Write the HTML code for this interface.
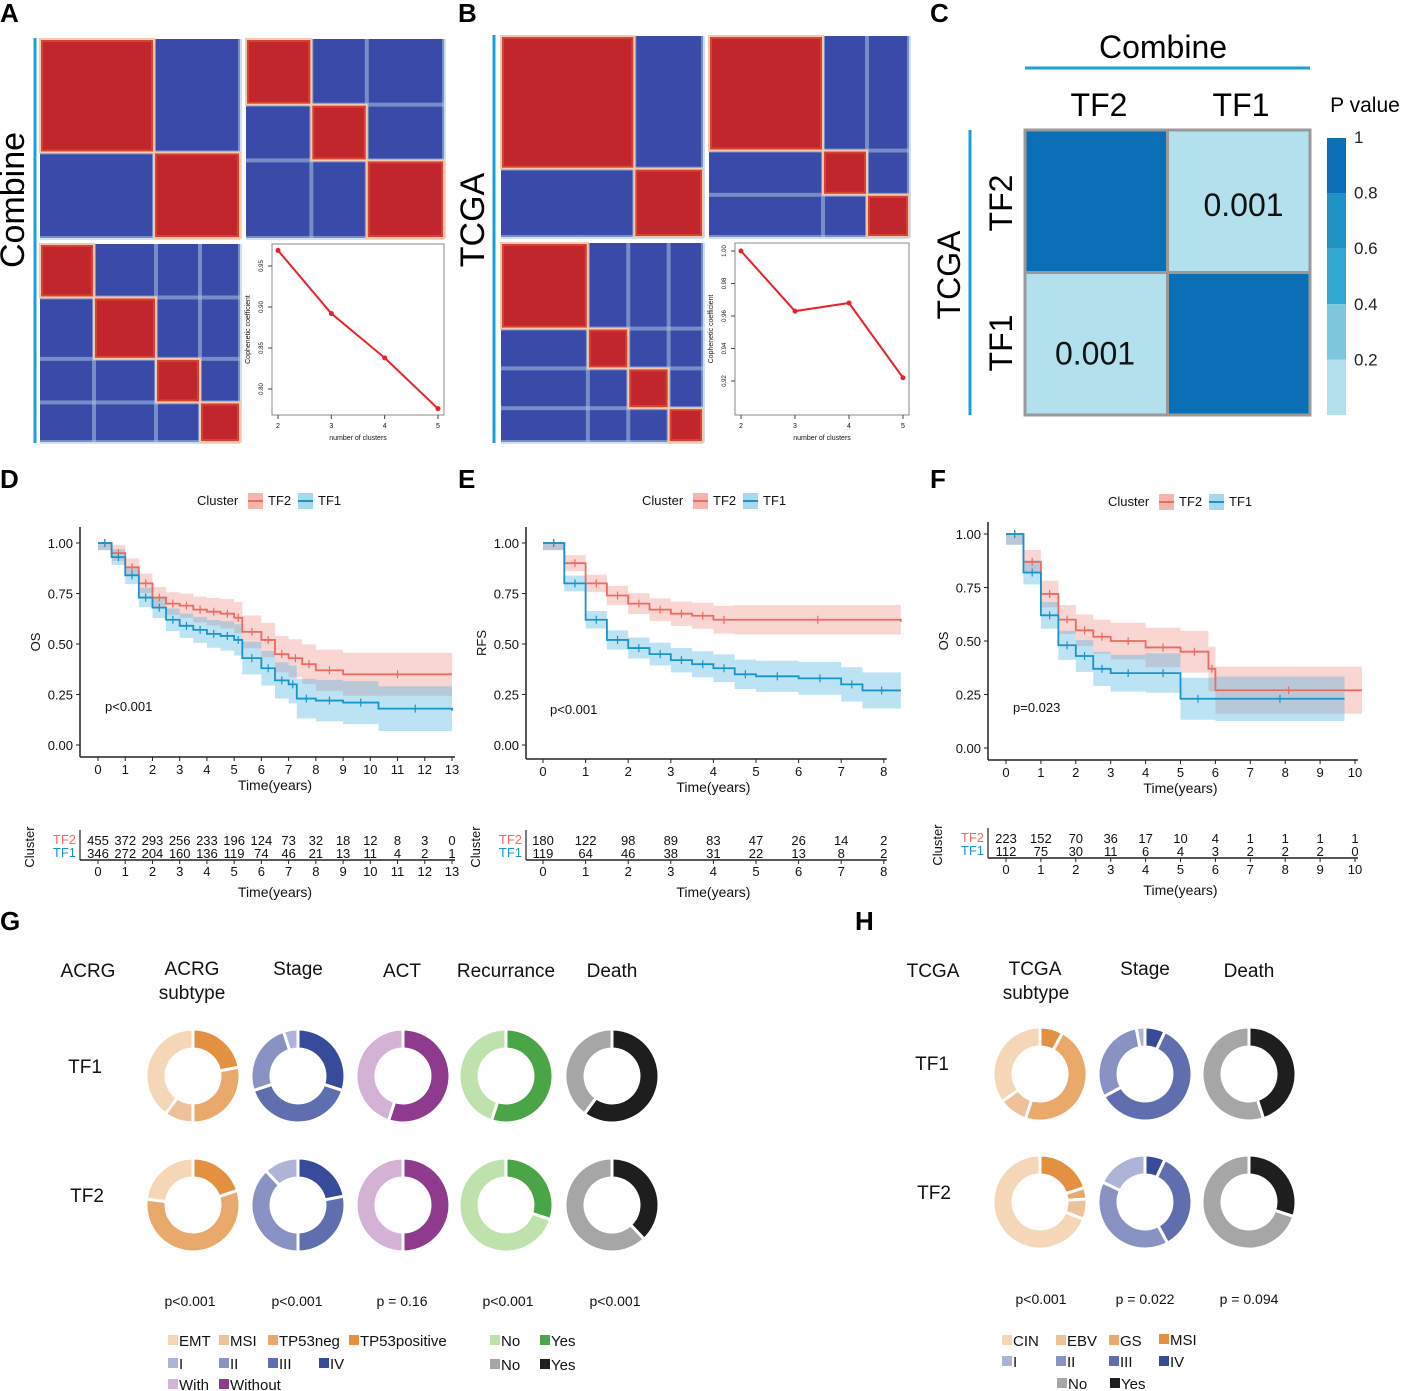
<!DOCTYPE html>
<html><head><meta charset="utf-8"><style>
body{margin:0;background:#fff;}
svg{display:block;font-family:"Liberation Sans",Arial,sans-serif;}
</style></head><body>
<svg id="fig" width="1401" height="1391" viewBox="0 0 1401 1391" xmlns="http://www.w3.org/2000/svg"></svg>
<script>
// ---------- DATA ----------
const copheneticK = [2,3,4,5];
const copheneticCombine = [0.969,0.892,0.838,0.776];
const copheneticTCGA = [1.000,0.963,0.968,0.922];

const osTimeTF2 = [0,0.5,1,1.5,2,2.5,3,3.5,4,4.5,5,5.3,6,6.5,7,7.5,8,9,13];
const osSurvTF2 = [1,0.95,0.88,0.80,0.73,0.70,0.69,0.67,0.66,0.65,0.63,0.56,0.52,0.45,0.43,0.40,0.37,0.35,0.35];
const osTimeTF1 = [0,0.5,1,1.5,2,2.5,3,3.5,4,4.5,5,5.3,6,6.5,7,7.3,8,9,10.3,13];
const osSurvTF1 = [1,0.93,0.84,0.73,0.68,0.62,0.59,0.57,0.55,0.54,0.52,0.43,0.38,0.32,0.30,0.23,0.22,0.21,0.18,0.17];

const rfsTimeTF2 = [0,0.5,1,1.5,2,2.5,3,3.5,4,4.5,8.4];
const rfsSurvTF2 = [1,0.90,0.80,0.74,0.70,0.67,0.65,0.64,0.62,0.62,0.61];
const rfsTimeTF1 = [0,0.5,1,1.5,2,2.5,3,3.5,4,4.5,5,6,7,7.5,8.4];
const rfsSurvTF1 = [1,0.80,0.62,0.52,0.48,0.45,0.42,0.40,0.38,0.35,0.34,0.33,0.30,0.27,0.27];

const tcgaTimeTF2 = [0,0.5,1,1.5,2,2.5,3,4,5,5.8,6,10.2];
const tcgaSurvTF2 = [1,0.87,0.72,0.60,0.55,0.52,0.50,0.47,0.45,0.37,0.27,0.27];
const tcgaTimeTF1 = [0,0.5,1,1.5,2,2.5,3,4,5,6,9.7];
const tcgaSurvTF1 = [1,0.82,0.62,0.48,0.43,0.37,0.35,0.35,0.23,0.23,0.23];

const riskD_TF2 = [455,372,293,256,233,196,124,73,32,18,12,8,3,0];
const riskD_TF1 = [346,272,204,160,136,119,74,46,21,13,11,4,2,1];
const riskE_TF2 = [180,122,98,89,83,47,26,14,2];
const riskE_TF1 = [119,64,46,38,31,22,13,8,2];
const riskF_TF2 = [223,152,70,36,17,10,4,1,1,1,1];
const riskF_TF1 = [112,75,30,11,6,4,3,2,2,2,0];
const survTicks = [0,0.25,0.5,0.75,1];
const survTickLabels = ["0.00","0.25","0.50","0.75","1.00"];

const pvalTicks = [1,0.8,0.6,0.4,0.2];

// donut fractions (clockwise from top)
const acrgTF1 = [0.22,0.28,0.10,0.40]; const acrgTF2 = [0.20,0.57,0,0.23];
const stageGTF1 = [0.30,0.40,0.25,0.05]; const stageGTF2 = [0.22,0.28,0.38,0.12];
const actTF1 = [0.55,0.45]; const actTF2 = [0.50,0.50];
const recTF1 = [0.55,0.45]; const recTF2 = [0.30,0.70];
const deathGTF1 = [0.60,0.40]; const deathGTF2 = [0.38,0.62];
const tcgaSubTF1 = [0.08,0.47,0.10,0.35]; const tcgaSubTF2 = [0.20,0.04,0.07,0.69];
const stageHTF1 = [0.07,0.60,0.30,0.03]; const stageHTF2 = [0.07,0.35,0.40,0.18];
const deathHTF1 = [0.45,0.55]; const deathHTF2 = [0.30,0.70];

// ---------- HELPERS ----------
const NS="http://www.w3.org/2000/svg";
const svg=document.getElementById('fig');
function el(tag,attrs,parent){const e=document.createElementNS(NS,tag);for(const k in attrs)e.setAttribute(k,attrs[k]);(parent||svg).appendChild(e);return e;}
function txt(x,y,s,size,opts,parent){opts=opts||{};const t=el('text',{x:x,y:y,'font-size':size,'text-anchor':opts.anchor||'middle',fill:opts.fill||'#111'},parent);if(opts.weight)t.setAttribute('font-weight',opts.weight);if(opts.rot)t.setAttribute('transform','rotate('+opts.rot+' '+x+' '+y+')');t.textContent=s;return t;}

[["A",0,22],["B",458,22],["C",930,22],["D",0,488],["E",458,488],["F",930,488],["G",0,930],["H",855,930]].forEach(p=>{
  const t=txt(p[1],p[2],p[0],26,{anchor:'start',weight:'bold',fill:'#000'});
  
  
});

// ---------- HEATMAPS ----------
const RED='#c0262c', BLUE='#3a4aa8';
function heatmap(x,y,w,h,blocks,name){
  const g=el('g',{});
  
  
  el('rect',{x:x,y:y,width:w,height:h,fill:BLUE},g);
  let acc=0;
  blocks.forEach(b=>{acc+=b;
    el('rect',{x:x+acc*w-2,y:y,width:4,height:h,fill:'#a9c4e2',opacity:0.55},g);
    el('rect',{x:x,y:y+acc*h-2,width:w,height:4,fill:'#a9c4e2',opacity:0.55},g);
  });
  acc=0;
  blocks.forEach(b=>{
    el('rect',{x:x+acc*w-1,y:y+acc*h-1,width:b*w+2,height:b*h+2,fill:'#f1c9b0'},g);
    el('rect',{x:x+acc*w+1,y:y+acc*h+1,width:b*w-2,height:b*h-2,fill:'#d8432f'},g);
    el('rect',{x:x+acc*w+3,y:y+acc*h+3,width:b*w-6,height:b*h-6,fill:RED},g);
    acc+=b;
  });
}
heatmap(40,39,200,199,[0.57,0.43],'combine-heatmap-k2');
heatmap(246,39,198,199,[0.33,0.28,0.39],'combine-heatmap-k3');
heatmap(40,244,200,198,[0.27,0.31,0.22,0.2],'combine-heatmap-k4');
heatmap(501,36,202,201,[0.66,0.34],'tcga-heatmap-k2');
heatmap(709,36,200,201,[0.57,0.22,0.21],'tcga-heatmap-k3');
heatmap(501,243,202,199,[0.43,0.2,0.2,0.17],'tcga-heatmap-k4');

function cophPlot(x0,y0,x1,y1,vals,ticks,ymap,name){
  const g=el('g',{});
  
  
  el('rect',{x:x0,y:y0,width:x1-x0,height:y1-y0,fill:'#fff',stroke:'#888','stroke-width':1},g);
  const xs=k=>x0+6+(k-2)/3*(x1-x0-12);
  copheneticK.forEach(k=>{el('line',{x1:xs(k),y1:y1,x2:xs(k),y2:y1+4,stroke:'#444'},g);txt(xs(k),y1+13,String(k),7,{},g);});
  ticks.forEach(t=>{const yy=ymap(t);el('line',{x1:x0,y1:yy,x2:x0-4,y2:yy,stroke:'#444'},g);txt(x0-9,yy,t.toFixed(2),6,{rot:-90},g);});
  let d='';vals.forEach((v,i)=>{d+=(i?'L':'M')+xs(copheneticK[i])+' '+ymap(v);});
  el('path',{d:d,stroke:'#e8222a','stroke-width':2,fill:'none'},g);
  vals.forEach((v,i)=>el('circle',{cx:xs(copheneticK[i]),cy:ymap(v),r:2.5,fill:'#e8222a'},g));
  txt((x0+x1)/2,y1+25,'number of clusters',7,{},g);
  txt(x0-22,(y0+y1)/2,'Cophenetic coefficient',7,{rot:-90},g);
}
cophPlot(272,244,444,415,copheneticCombine,[0.80,0.85,0.90,0.95],v=>266+(0.95-v)/0.05*41,'combine-cophenetic-plot');
cophPlot(735,243,909,415,copheneticTCGA,[0.92,0.94,0.96,0.98,1.00],v=>251+(1-v)/0.02*32.5,'tcga-cophenetic-plot');

el('line',{x1:35,y1:38,x2:35,y2:443,stroke:'#1ba0d8','stroke-width':3});
el('line',{x1:494,y1:35,x2:494,y2:443,stroke:'#1ba0d8','stroke-width':3});
let t=txt(24,200,'Combine',34,{rot:-90,fill:'#000'});
t=txt(484,220,'TCGA',34,{rot:-90,fill:'#000'});

// ---------- PANEL C ----------
t=txt(1163,58,'Combine',32,{fill:'#000'});
el('line',{x1:1025,y1:68,x2:1310,y2:68,stroke:'#1ba0d8','stroke-width':3});
txt(1099,116,'TF2',32,{fill:'#000'});txt(1241,116,'TF1',32,{fill:'#000'});
el('line',{x1:970,y1:130,x2:970,y2:415,stroke:'#1ba0d8','stroke-width':3});
txt(960,275,'TCGA',32,{rot:-90,fill:'#000'});
txt(1012,203,'TF2',32,{rot:-90,fill:'#000'});txt(1012,343,'TF1',32,{rot:-90,fill:'#000'});
const cellVals=[[1,0.001],[0.001,1]];
const pcol=v=>v>0.8?'#0a6fb5':v>0.6?'#1f93c6':v>0.4?'#30a8d0':v>0.2?'#7bc7de':'#b2e0ec';
cellVals.forEach((row,i)=>row.forEach((v,j)=>{
  const r=el('rect',{x:1025+j*142.5,y:130+i*142.5,width:142.5,height:142.5,fill:pcol(v),stroke:'#999','stroke-width':3});
  
  
  if(v<1) txt(1025+j*142.5+(j?76:70),130+i*142.5+(i?92:86),'0.001',32,{fill:'#111'});
}));
txt(1365,112,'P value',21,{fill:'#000'});
pvalTicks.forEach((v,i)=>{
  el('rect',{x:1327,y:138+i*55.4,width:19,height:55.4,fill:pcol(v-0.01)});
  txt(1354,143+i*55.6,String(v),17,{anchor:'start',fill:'#222'});
});

// ---------- KM ----------
function km(cfg){
  const g=el('g',{});
  
  
  const X=tt=>cfg.x0+tt*cfg.dx, Y=s=>cfg.y0-s*cfg.dy;
  function stepPts(T,S,off){const p=[];T.forEach((tt,i)=>{if(i>0)p.push([X(tt),Y(S[i-1]+off(i-1))]);p.push([X(tt),Y(S[i]+off(i))]);});return p;}
  function band(T,S,col,w){
    const up=stepPts(T,S,i=>Math.min(w*(1+i*0.12),1-S[i]));
    const lo=stepPts(T,S,i=>-w*(1+i*0.12));
    const pts=up.concat(lo.reverse());
    el('path',{d:'M'+pts.map(p=>p.join(' ')).join('L')+'Z',fill:col,opacity:0.35},g);
  }
  function line(T,S,col,nm){
    const p=stepPts(T,S,()=>0);
    const l=el('path',{d:'M'+p.map(q=>q.join(' ')).join('L'),stroke:col,'stroke-width':1.8,fill:'none'},g);
    
    
    for(let i=1;i<T.length;i++){const xm=X((T[i-1]+T[i])/2),ym=Y(S[i-1]);el('line',{x1:xm,y1:ym-4,x2:xm,y2:ym+4,stroke:col,'stroke-width':1.2},g);}
  }
  band(cfg.t2,cfg.s2,'#f08a80',cfg.ci);band(cfg.t1,cfg.s1,'#3fb0dc',cfg.ci);
  line(cfg.t2,cfg.s2,'#ee6a5e',cfg.name+'-tf2-curve');line(cfg.t1,cfg.s1,'#1a93c8',cfg.name+'-tf1-curve');
  el('line',{x1:cfg.ax,y1:cfg.top,x2:cfg.ax,y2:cfg.axy,stroke:'#222','stroke-width':1.5},g);
  el('line',{x1:cfg.ax,y1:cfg.axy,x2:cfg.x0+cfg.tmax*cfg.dx+3,y2:cfg.axy,stroke:'#222','stroke-width':1.5},g);
  survTicks.forEach((v,i)=>{el('line',{x1:cfg.ax,y1:Y(v),x2:cfg.ax-4,y2:Y(v),stroke:'#222'},g);txt(cfg.ax-7,Y(v)+5,survTickLabels[i],13,{anchor:'end'},g);});
  for(let k=0;k<=cfg.tmax;k++){el('line',{x1:X(k),y1:cfg.axy,x2:X(k),y2:cfg.axy+4,stroke:'#222'},g);txt(X(k),cfg.axy+17,String(k),13,{},g);}
  txt((cfg.x0+X(cfg.tmax))/2,cfg.axy+33,'Time(years)',14,{},g);
  txt(cfg.ax-40,(cfg.top+cfg.axy)/2,cfg.ylab,13,{rot:-90},g);
  txt(cfg.px,cfg.py,cfg.ptext,13,{anchor:'start'},g);
  const lx=cfg.legx;
  txt(lx,cfg.legy,'Cluster',13,{anchor:'start'},g);
  el('rect',{x:lx+51,y:cfg.legy-12,width:15,height:16,fill:'#f6b5ae'},g);el('line',{x1:lx+51,y1:cfg.legy-4,x2:lx+66,y2:cfg.legy-4,stroke:'#ee6a5e','stroke-width':2},g);
  txt(lx+71,cfg.legy,'TF2',13,{anchor:'start'},g);
  el('rect',{x:lx+101,y:cfg.legy-12,width:15,height:16,fill:'#a6d9ee'},g);el('line',{x1:lx+101,y1:cfg.legy-4,x2:lx+116,y2:cfg.legy-4,stroke:'#1a93c8','stroke-width':2},g);
  txt(lx+121,cfg.legy,'TF1',13,{anchor:'start'},g);
  const ry=cfg.ry;
  el('line',{x1:cfg.ax,y1:ry-10,x2:cfg.ax,y2:ry+20,stroke:'#222','stroke-width':1.2},g);
  el('line',{x1:cfg.ax,y1:ry+20,x2:X(cfg.tmax)+3,y2:ry+20,stroke:'#222','stroke-width':1.5},g);
  txt(cfg.ax-4,ry+4,'TF2',13,{anchor:'end',fill:'#ee6a5e'},g);
  txt(cfg.ax-4,ry+17,'TF1',13,{anchor:'end',fill:'#1a93c8'},g);
  txt(cfg.ax-46,ry+7,'Cluster',13,{rot:-90},g);
  cfg.r2.forEach((n,k)=>txt(X(k),ry+5,String(n),13,{},g));
  cfg.r1.forEach((n,k)=>txt(X(k),ry+18,String(n),13,{},g));
  for(let k=0;k<=cfg.tmax;k++){el('line',{x1:X(k),y1:ry+20,x2:X(k),y2:ry+24,stroke:'#222'},g);txt(X(k),ry+36,String(k),13,{},g);}
  txt((cfg.x0+X(cfg.tmax))/2,ry+57,'Time(years)',14,{},g);
}
km({name:'os-km-combine',x0:98,dx:27.23,y0:745,dy:202,ax:80,top:527,axy:757,tmax:13,t1:osTimeTF1,s1:osSurvTF1,t2:osTimeTF2,s2:osSurvTF2,ci:0.035,ylab:'OS',px:105,py:711,ptext:'p<0.001',legx:197,legy:505,r1:riskD_TF1,r2:riskD_TF2,ry:840});
km({name:'rfs-km-combine',x0:543,dx:42.6,y0:745,dy:202,ax:526,top:527,axy:759,tmax:8,t1:rfsTimeTF1,s1:rfsSurvTF1,t2:rfsTimeTF2,s2:rfsSurvTF2,ci:0.035,ylab:'RFS',px:550,py:714,ptext:'p<0.001',legx:642,legy:505,r1:riskE_TF1,r2:riskE_TF2,ry:840});
km({name:'os-km-tcga',x0:1006,dx:34.9,y0:748,dy:214,ax:988,top:522,axy:760,tmax:10,t1:tcgaTimeTF1,s1:tcgaSurvTF1,t2:tcgaTimeTF2,s2:tcgaSurvTF2,ci:0.05,ylab:'OS',px:1013,py:712,ptext:'p=0.023',legx:1108,legy:506,r1:riskF_TF1,r2:riskF_TF2,ry:838});

// ---------- DONUTS ----------
const ORG=['#e39140','#e8a96b','#efc199','#f5d6b6'];
const STG=['#374b9a','#5f6eae','#8893c4','#adb4d8'];
function donut(cx,cy,fr,cols,name){
  const g=el('g',{});
  
  
  const R=47,r=27;let a=0;
  fr.forEach((f,i)=>{
    if(f<=0)return;
    const a0=a*2*Math.PI-Math.PI/2,a1=(a+f)*2*Math.PI-Math.PI/2;a+=f;
    const lg=f>0.5?1:0;
    const p=(rr,an)=>(cx+rr*Math.cos(an)).toFixed(2)+' '+(cy+rr*Math.sin(an)).toFixed(2);
    el('path',{d:'M'+p(R,a0)+'A'+R+' '+R+' 0 '+lg+' 1 '+p(R,a1)+'L'+p(r,a1)+'A'+r+' '+r+' 0 '+lg+' 0 '+p(r,a0)+'Z',fill:cols[i],stroke:'#fff','stroke-width':3},g);
  });
}
const gx=[193,298,403,506,612];
const gSets=[[acrgTF1,acrgTF2,ORG,'acrg-subtype'],[stageGTF1,stageGTF2,STG,'acrg-stage'],[actTF1,actTF2,['#8e3b8e','#d3b2d6'],'acrg-act'],[recTF1,recTF2,['#4aa546','#bfe2ad'],'acrg-recurrence'],[deathGTF1,deathGTF2,['#1e1e1e','#a6a6a6'],'acrg-death']];
gSets.forEach((s,i)=>{donut(gx[i],1076,s[0],s[2],s[3]+'-tf1-donut');donut(gx[i],1205,s[1],s[2],s[3]+'-tf2-donut');});
const hx=[1040,1145,1249];
const hSets=[[tcgaSubTF1,tcgaSubTF2,ORG,'tcga-subtype'],[stageHTF1,stageHTF2,STG,'tcga-stage'],[deathHTF1,deathHTF2,['#1e1e1e','#a6a6a6'],'tcga-death']];
hSets.forEach((s,i)=>{donut(hx[i],1074,s[0],s[2],s[3]+'-tf1-donut');donut(hx[i],1202,s[1],s[2],s[3]+'-tf2-donut');});

[[88,977,'ACRG'],[192,975,'ACRG'],[192,999,'subtype'],[298,975,'Stage'],[402,977,'ACT'],[506,977,'Recurrance'],[612,977,'Death'],
 [933,977,'TCGA'],[1035,975,'TCGA'],[1036,999,'subtype'],[1145,975,'Stage'],[1249,977,'Death'],
 [85,1073,'TF1'],[87,1202,'TF2'],[932,1070,'TF1'],[934,1199,'TF2']].forEach(h=>txt(h[0],h[1],h[2],19,{fill:'#111'}));
[[190,1306,'p<0.001'],[297,1306,'p<0.001'],[402,1306,'p = 0.16'],[508,1306,'p<0.001'],[615,1306,'p<0.001'],
 [1041,1304,'p<0.001'],[1145,1304,'p = 0.022'],[1249,1304,'p = 0.094']].forEach(h=>txt(h[0],h[1],h[2],14,{}));

function leg(x,y,col,label){el('rect',{x:x,y:y-11,width:10,height:10,fill:col});txt(x+11,y,label,15,{anchor:'start'});}
leg(168,1346,'#f5d6b6','EMT');leg(219,1346,'#efc199','MSI');leg(268,1346,'#e8a96b','TP53neg');leg(349,1346,'#e39140','TP53positive');
leg(168,1369,'#adb4d8','I');leg(219,1369,'#8893c4','II');leg(268,1369,'#5f6eae','III');leg(319,1369,'#374b9a','IV');
leg(168,1390,'#d3b2d6','With');leg(219,1390,'#8e3b8e','Without');
leg(490,1346,'#bfe2ad','No');leg(540,1346,'#4aa546','Yes');
leg(490,1370,'#a6a6a6','No');leg(540,1370,'#1e1e1e','Yes');
leg(1002,1346,'#f5d6b6','CIN');leg(1056,1346,'#efc199','EBV');leg(1109,1346,'#e8a96b','GS');leg(1159,1345,'#e39140','MSI');
leg(1002,1367,'#adb4d8','I');leg(1056,1367,'#8893c4','II');leg(1109,1367,'#5f6eae','III');leg(1159,1367,'#374b9a','IV');
leg(1057,1389,'#a6a6a6','No');leg(1110,1389,'#1e1e1e','Yes');
</script>
</body></html>
